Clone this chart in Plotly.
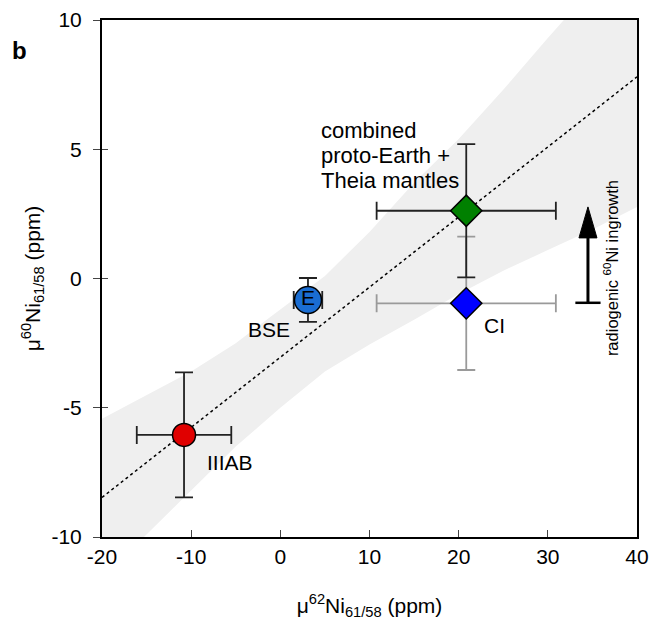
import plotly.graph_objects as go

# ---- data ----
names = ["IIIAB", "BSE", "combined", "CI"]
x_vals = [-10.8, 3.1, 20.85, 20.85]
y_vals = [-6.05, -0.83, 2.62, -0.96]
x_err = [5.3, 1.6, 10.05, 10.05]
y_err = [2.42, 0.85, 2.58, 2.58]

fit_x = [-20, 40]
fit_y = [-8.47, 7.8]

band_x = [-20, -15, -10, -5, 0, 5, 10, 15, 20, 25, 30, 35, 40]
band_upper = [-5.43, -4.5, -3.6, -2.5, -1.2, 0.1, 1.8, 3.7, 5.4, 7.3, 9.3, 11.3, 13.2]
band_lower = [-11.6, -9.9, -8.2, -6.5, -5.0, -3.6, -2.55, -1.6, -0.6, 0.3, 1.1, 1.9, 2.77]

arrow_x = 34.5
arrow_y0 = -0.94
arrow_tip = 2.77

x_ticks = [-20, -10, 0, 10, 20, 30, 40]
y_ticks = [-10, -5, 0, 5, 10]

combined_lines = ["combined", "proto-Earth +", "Theia mantles"]

FONT = "Liberation Sans, Arial, Helvetica, sans-serif"

fig = go.Figure()

# confidence band
fig.add_trace(go.Scatter(x=band_x, y=band_lower, mode="lines", line=dict(width=0),
                         hoverinfo="skip", showlegend=False))
fig.add_trace(go.Scatter(x=band_x, y=band_upper, mode="lines", line=dict(width=0),
                         fill="tonexty", fillcolor="#efefef", hoverinfo="skip", showlegend=False))
# fit line
fig.add_trace(go.Scatter(x=fit_x, y=fit_y, mode="lines",
                         line=dict(color="black", width=1.5, dash="dot"), showlegend=False))

def point(i, symbol, color, size, ecolor, text=None):
    fig.add_trace(go.Scatter(
        x=[x_vals[i]], y=[y_vals[i]],
        mode="markers+text" if text else "markers",
        text=[text] if text else None,
        textposition="middle center",
        textfont=dict(family=FONT, size=21, color="black"),
        marker=dict(symbol=symbol, color=color, size=size, line=dict(color="black", width=1.5)),
        error_x=dict(type="data", array=[x_err[i]], color=ecolor, thickness=1.8, width=9),
        error_y=dict(type="data", array=[y_err[i]], color=ecolor, thickness=1.8, width=9),
        showlegend=False, cliponaxis=False))

point(3, "diamond", "#0000ff", 24, "#9a9a9a")
point(2, "diamond", "#008000", 24, "#222222")
point(0, "circle", "#e00000", 23, "#222222")
point(1, "circle", "#1a6dd2", 27, "#222222", text="E")

# arrow
fig.add_trace(go.Scatter(x=[arrow_x, arrow_x], y=[arrow_y0, arrow_tip - 0.9], mode="lines",
                         line=dict(color="black", width=3), showlegend=False))
fig.add_trace(go.Scatter(x=[arrow_x], y=[arrow_y0], mode="markers",
                         marker=dict(symbol="line-ew", size=18, line=dict(color="black", width=2.5)),
                         showlegend=False))
fig.add_shape(type="path", xref="x", yref="y", xsizemode="pixel", ysizemode="pixel",
              xanchor=arrow_x, yanchor=arrow_tip,
              path="M0,0 L-9,-31 L9,-31 Z", fillcolor="black", line=dict(color="black", width=1))

ann_font = dict(family=FONT, size=21, color="black")
annotations = [
    dict(x=x_vals[0], y=y_vals[0], text="IIIAB", showarrow=False, xanchor="left", yanchor="middle",
         xshift=21, yshift=-28, font=ann_font),
    dict(x=x_vals[1], y=y_vals[1], text="BSE", showarrow=False, xanchor="right", yanchor="middle",
         xshift=-16, yshift=-30, font=ann_font),
    dict(x=x_vals[3], y=y_vals[3], text="CI", showarrow=False, xanchor="left", yanchor="middle",
         xshift=16, yshift=-22, font=ann_font),
    dict(x=arrow_x, y=0.4, text="radiogenic <sup>60</sup>Ni ingrowth", showarrow=False, textangle=-90,
         xanchor="center", yanchor="middle", xshift=23, font=dict(family=FONT, size=16.5, color="black")),
    dict(x=0, y=1, xref="paper", yref="paper", text="<b>b</b>", showarrow=False, xanchor="left",
         yanchor="middle", xshift=-92, yshift=-30, font=dict(family=FONT, size=24, color="black")),
]
for k, line in enumerate(combined_lines):
    annotations.append(dict(x=x_vals[2], y=y_vals[2], text=line, showarrow=False,
                            xanchor="left", yanchor="middle", xshift=-147, yshift=80 - 25 * k,
                            font=dict(family=FONT, size=22, color="black")))

fig.update_layout(
    width=653, height=620,
    margin=dict(l=102, r=16, t=20, b=83, autoexpand=False),
    paper_bgcolor="white", plot_bgcolor="white",
    font=dict(family=FONT, size=21, color="black"),
    annotations=annotations,
    xaxis=dict(range=[-20, 40], tickvals=x_ticks, ticktext=[str(v) for v in x_ticks],
               automargin=False,
               showgrid=False, zeroline=False, showline=True, linecolor="black", linewidth=2,
               mirror=True, ticks="inside", ticklen=7, tickcolor="#444", tickwidth=1,
               tickfont=dict(family=FONT, size=21), ticklabelstandoff=0,
               title=dict(text="μ<sup>62</sup>Ni<sub>61/58</sub> (ppm)", font=dict(family=FONT, size=21),
                          standoff=31)),
    yaxis=dict(range=[-10, 10], tickvals=y_ticks, ticktext=[str(v) for v in y_ticks],
               automargin=False,
               showgrid=False, zeroline=False, showline=True, linecolor="black", linewidth=2,
               mirror=True, ticks="outside", ticklen=7, tickcolor="#444", tickwidth=1,
               tickfont=dict(family=FONT, size=21), ticklabelstandoff=7,
               title=dict(text="μ<sup>60</sup>Ni<sub>61/58</sub> (ppm)", font=dict(family=FONT, size=21),
                          standoff=5)),
    yaxis2=dict(range=[-10, 10], overlaying="y", matches="y", side="left", anchor="x",
                automargin=False,
                tickvals=y_ticks, showticklabels=False, ticks="inside", ticklen=6,
                tickcolor="#444", tickwidth=1, showgrid=False, zeroline=False, showline=False),
)
fig.add_trace(go.Scatter(x=[None], y=[None], yaxis="y2", showlegend=False, hoverinfo="skip"))

fig.write_html("out.html", config={"displayModeBar": False},
               post_script="document.body.style.margin='0';document.body.style.overflow='hidden';"
                           "document.documentElement.style.overflow='hidden';")
